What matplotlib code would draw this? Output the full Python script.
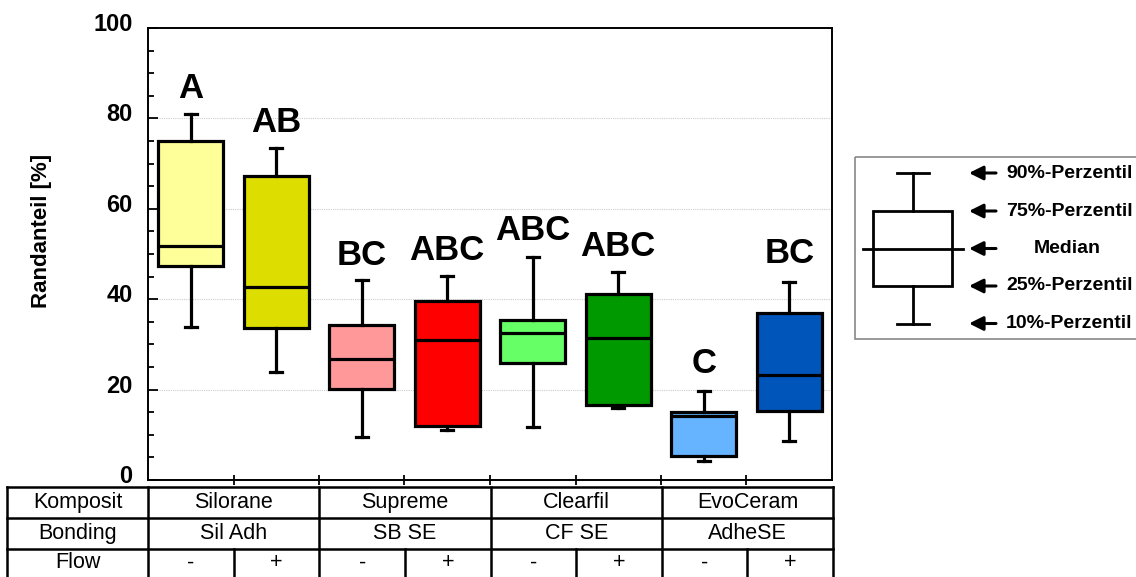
import matplotlib
matplotlib.use("Agg")
import matplotlib.pyplot as plt
import matplotlib.transforms as mtransforms
from matplotlib.patches import Rectangle

plt.rcParams['font.family'] = ['Liberation Sans', 'DejaVu Sans']

# ---- data ----
komposit = ["Silorane", "Supreme", "Clearfil", "EvoCeram"]
bonding = ["Sil Adh", "SB SE", "CF SE", "AdheSE"]
flow = ["-", "+"]
whislo = [33.8, 24.0, 9.5, 11.1, 11.7, 16.0, 4.1, 8.6]
q1 = [47.4, 33.6, 20.2, 12.0, 25.9, 16.7, 5.4, 15.2]
med = [51.8, 42.6, 26.8, 30.9, 32.6, 31.5, 14.1, 23.3]
q3 = [75.0, 67.3, 34.4, 39.6, 35.5, 41.2, 15.1, 36.9]
whishi = [81.0, 73.4, 44.2, 45.1, 49.3, 46.1, 19.6, 43.9]
letters = ["A", "AB", "BC", "ABC", "ABC", "ABC", "C", "BC"]
letter_y = [86.7, 79.2, 49.7, 50.8, 55.3, 51.6, 25.8, 50.2]
colors = ["#FFFF99", "#DDDD00", "#FF9999", "#FF0000",
          "#66FF66", "#009900", "#66B3FF", "#0055BB"]
legend_labels = ["90%-Perzentil", "75%-Perzentil", "Median",
                 "25%-Perzentil", "10%-Perzentil"]

W, H = 1136, 577
fig = plt.figure(figsize=(W / 100, H / 100), dpi=100)

def px_axes(x0, y0, x1, y1):
    return fig.add_axes([x0 / W, 1 - y1 / H, (x1 - x0) / W, (y1 - y0) / H])

# ---- main axes ----
ax = px_axes(148, 28, 832, 480)
n = len(med)
positions = [i + 0.5 for i in range(n)]
stats = []
for i in range(n):
    stats.append(dict(med=med[i], q1=q1[i], q3=q3[i],
                      whislo=whislo[i], whishi=whishi[i], fliers=[]))
bp = ax.bxp(stats, positions=positions, widths=0.76, capwidths=0.14,
            patch_artist=True, showfliers=False,
            boxprops=dict(linewidth=2.3, edgecolor='black'),
            medianprops=dict(color='black', linewidth=2.3),
            whiskerprops=dict(color='black', linewidth=2.3),
            capprops=dict(color='black', linewidth=2.3))
for patch, c in zip(bp['boxes'], colors):
    patch.set_facecolor(c)

for p, t, y in zip(positions, letters, letter_y):
    ax.text(p, y, t, ha='center', va='center', fontsize=25,
            fontweight='bold')

ax.set_xlim(0, 8)
ax.set_ylim(0, 100)
ax.set_yticks([0, 20, 40, 60, 80, 100])
ax.set_yticks(range(5, 100, 5), minor=True)
ax.set_xticks(range(1, 8))
ax.set_xticklabels([])
ax.tick_params(axis='y', which='major', direction='in', length=7,
               width=1.3, labelsize=17, pad=11)
ax.tick_params(axis='y', which='minor', direction='in', length=4,
               width=1.3)
ax.tick_params(axis='x', which='major', direction='inout', length=7,
               width=1.3)
offset = mtransforms.ScaledTranslation(0, 0.06, fig.dpi_scale_trans)
for lab in ax.yaxis.get_majorticklabels():
    lab.set_fontweight('bold')
    lab.set_transform(lab.get_transform() + offset)
for y in [20, 40, 60, 80]:
    ax.axhline(y, color='#cccccc', linestyle=(0, (1, 1)), linewidth=0.8,
               zorder=0)
for s in ax.spines.values():
    s.set_linewidth(1.4)
ax.set_ylabel("Randanteil [%]", fontsize=16, fontweight='bold')
ax.yaxis.set_label_coords(-0.14, 0.55)

# ---- table below ----
tax = px_axes(7, 487, 833, 580)
left = -141 / 85.5
tax.set_xlim(left, 8)
tax.set_ylim(3, 0)
tax.axis('off')
lw = 1.8
for y in [0, 1, 2, 3]:
    tax.plot([left, 8], [y, y], color='black', lw=lw, clip_on=False)
for x in [left, 0, 2, 4, 6, 8]:
    tax.plot([x, x], [0, 3], color='black', lw=lw, clip_on=False)
for x in [1, 3, 5, 7]:
    tax.plot([x, x], [2, 3], color='black', lw=lw, clip_on=False)
fs = 15.5
tax.text(left / 2, 0.5, "Komposit", ha='center', va='center', fontsize=fs)
tax.text(left / 2, 1.5, "Bonding", ha='center', va='center', fontsize=fs)
tax.text(left / 2, 2.45, "Flow", ha='center', va='center', fontsize=fs)
for g in range(4):
    tax.text(2 * g + 1, 0.5, komposit[g], ha='center', va='center', fontsize=fs)
    tax.text(2 * g + 1, 1.5, bonding[g], ha='center', va='center', fontsize=fs)
    for k in range(2):
        tax.text(2 * g + k + 0.5, 2.45, flow[k], ha='center', va='center',
                 fontsize=fs)

# ---- legend ----
lax = px_axes(0, 0, W, H)
lax.set_xlim(0, W)
lax.set_ylim(H, 0)
lax.axis('off')
lax.add_patch(Rectangle((855, 157), 300, 182, fill=False,
                        edgecolor='#888888', lw=1.2))
cx = 912.5
ly = [173, 211, 248.5, 286, 323.5]
lw2 = 2.0
lax.add_patch(Rectangle((873, 211), 78.5, 75, fill=False,
                        edgecolor='black', lw=lw2))
lax.plot([cx, cx], [173, 211], color='black', lw=lw2)
lax.plot([cx, cx], [286, 323.5], color='black', lw=lw2)
lax.plot([897, 929], [173, 173], color='black', lw=lw2)
lax.plot([897, 929], [323.5, 323.5], color='black', lw=lw2)
lax.plot([863, 962.5], [248.5, 248.5], color='black', lw=lw2)
for y, t in zip(ly, legend_labels):
    lax.annotate('', xy=(969, y), xytext=(996, y),
                 arrowprops=dict(arrowstyle='-|>,head_length=0.7,head_width=0.35',
                                 mutation_scale=12, color='black', lw=2.2,
                                 shrinkA=0, shrinkB=0))
    if t == "Median":
        lax.text(1067, y, t, ha='center', va='center', fontsize=14,
                 fontweight='bold')
    else:
        lax.text(1006, y, t, ha='left', va='center', fontsize=14,
                 fontweight='bold')

fig.savefig("out.png", dpi=100)
